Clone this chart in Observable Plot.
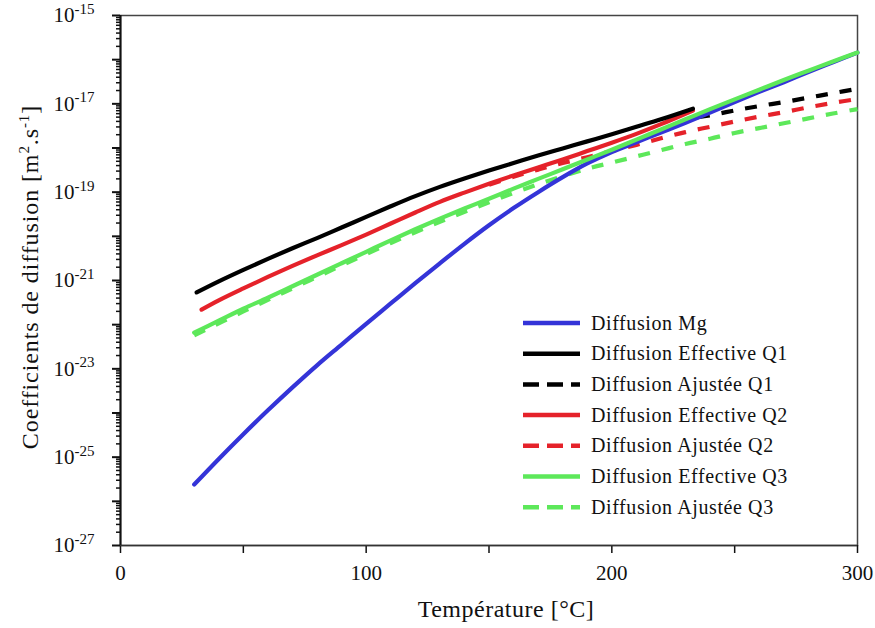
<!DOCTYPE html>
<html><head><meta charset="utf-8">
<script src="https://cdn.jsdelivr.net/npm/d3@7"></script>
<script src="https://cdn.jsdelivr.net/npm/@observablehq/plot@0.6"></script>
<style>
html,body{margin:0;padding:0;background:#fff;}
#chart{width:875px;height:628px;}
svg{display:block;}
</style></head><body><div id="chart"></div>
<script>
// Temperatures (°C) and log10 of diffusion coefficient (m²/s)
const mgTemp = [30,40,50,60,70,80,90,100,110,120,130,140,150,160,170,180,190,200,210,220,230,240,250,260,270,280,290,300];
const mgLog  = [-25.62,-25.04,-24.48,-23.94,-23.42,-22.92,-22.45,-21.98,-21.52,-21.06,-20.61,-20.17,-19.75,-19.36,-19.00,-18.66,-18.35,-18.09,-17.87,-17.65,-17.43,-17.20,-16.96,-16.73,-16.51,-16.28,-16.06,-15.84];

const q1EffTemp = [31,40,50,60,70,80,90,100,110,120,130,140,150,160,170,180,190,200,210,220,233];
const q1EffLog  = [-21.27,-21.02,-20.76,-20.51,-20.27,-20.04,-19.80,-19.56,-19.32,-19.09,-18.88,-18.69,-18.51,-18.34,-18.17,-18.01,-17.85,-17.69,-17.52,-17.35,-17.11];
const q1AdjTemp = [235,240,250,260,270,280,290,300];
const q1AdjLog  = [-17.30,-17.26,-17.15,-17.05,-16.96,-16.86,-16.76,-16.66];

const q2EffTemp = [33,40,50,60,70,80,90,100,110,120,130,140,150,160,170,180,190,200,210,220,233];
const q2EffLog  = [-21.66,-21.45,-21.18,-20.92,-20.67,-20.43,-20.20,-19.96,-19.71,-19.46,-19.22,-19.01,-18.81,-18.62,-18.44,-18.26,-18.07,-17.88,-17.68,-17.46,-17.15];
const q2AdjTemp = [150,160,170,180,190,200,210,220,230,240,250,260,270,280,290,300];
const q2AdjLog  = [-18.83,-18.65,-18.49,-18.34,-18.21,-18.07,-17.93,-17.78,-17.64,-17.52,-17.40,-17.29,-17.19,-17.08,-16.98,-16.89];

const q3EffTemp = [30,40,50,60,70,80,90,100,110,120,130,140,150,160,170,180,190,200,210,220,230,240,250,260,270,280,290,300];
const q3EffLog  = [-22.18,-21.91,-21.64,-21.39,-21.13,-20.87,-20.61,-20.35,-20.09,-19.84,-19.60,-19.37,-19.15,-18.92,-18.70,-18.48,-18.26,-18.04,-17.81,-17.58,-17.35,-17.12,-16.90,-16.68,-16.46,-16.25,-16.04,-15.84];
const q3AdjTemp = [30,50,70,90,110,130,150,170,190,200,210,220,230,240,250,260,270,280,290,300];
const q3AdjLog  = [-22.24,-21.70,-21.18,-20.66,-20.15,-19.67,-19.23,-18.82,-18.47,-18.33,-18.19,-18.05,-17.91,-17.79,-17.66,-17.55,-17.44,-17.33,-17.22,-17.12];

const xTicks = [0,50,100,150,200,250,300];
const xTickLabels = [0,100,200,300];
const yMajorExp = [-27,-26,-25,-24,-23,-22,-21,-20,-19,-18,-17,-16,-15];
const yLabelExp = [-27,-25,-23,-21,-19,-17,-15];

const legendLabels = ["Diffusion Mg","Diffusion Effective Q1","Diffusion Ajustée Q1","Diffusion Effective Q2","Diffusion Ajustée Q2","Diffusion Effective Q3","Diffusion Ajustée Q3"];
const legendColors = ["#3434d8","#000000","#000000","#e5222a","#e5222a","#5de85a","#5de85a"];
const legendDashed = [false,false,true,false,true,false,true];

const toRows = (ts, ls) => ts.map((t,i) => ({T: t, D: Math.pow(10, ls[i])}));
const majorTicks = yMajorExp.map(e => Math.pow(10, e));
const minorTicks = [];
for (let e = -27; e < -15; e++) for (let m = 2; m <= 9; m++) minorTicks.push(m * Math.pow(10, e));

const BLUE = legendColors[0], BLACK = legendColors[1], RED = legendColors[3], GREEN = legendColors[5];
const W = 4.2, DASH = "12,12", CURVE = "catmull-rom";
const lineOpts = (color, dashed) => ({x: "T", y: "D", stroke: color, strokeWidth: W, curve: CURVE,
  strokeDasharray: dashed ? DASH : null, strokeLinecap: dashed ? "butt" : "round"});

const plot = Plot.plot({
  width: 875, height: 628,
  marginLeft: 120, marginRight: 18, marginTop: 15, marginBottom: 83,
  style: {fontFamily: "'Liberation Serif','Times New Roman',serif", fontSize: "21px", color: "#111", background: "#fff", overflow: "visible"},
  x: {domain: [0, 300]},
  y: {type: "log", domain: [1e-27, 1e-15]},
  marks: [
    Plot.frame({stroke: "#444", strokeWidth: 1.5}),
    Plot.axisX({ticks: xTicks, tickSize: 8, tickPadding: 12, strokeWidth: 1.5,
      tickFormat: d => xTickLabels.includes(d) ? String(d) : "", label: null}),
    Plot.axisY({ticks: minorTicks, tickSize: 4, tickFormat: () => "", label: null, strokeWidth: 1.5}),
    Plot.axisY({ticks: majorTicks, tickSize: 8, tickPadding: 18, strokeWidth: 2, label: null,
      tickFormat: d => { const e = Math.round(Math.log10(d)); return yLabelExp.includes(e) ? "10^" + e : ""; }}),
    Plot.ruleX([0], {strokeWidth: 2, stroke: "#111"}),
    Plot.ruleY([1e-27], {strokeWidth: 1.5, stroke: "#333"}),
    Plot.line(toRows(q3AdjTemp, q3AdjLog), lineOpts(GREEN, true)),
    Plot.line(toRows(q2AdjTemp, q2AdjLog), lineOpts(RED, true)),
    Plot.line(toRows(q1AdjTemp, q1AdjLog), lineOpts(BLACK, true)),
    Plot.line(toRows(mgTemp, mgLog), lineOpts(BLUE, false)),
    Plot.line(toRows(q2EffTemp, q2EffLog), lineOpts(RED, false)),
    Plot.line(toRows(q1EffTemp, q1EffLog), lineOpts(BLACK, false)),
    Plot.line(toRows(q3EffTemp, q3EffLog), lineOpts(GREEN, false))
  ]
});
document.getElementById("chart").appendChild(plot);

const svg = d3.select(plot);
// superscript exponents on y tick labels
svg.selectAll('g[aria-label="y-axis tick label"] text').each(function() {
  const s = this.textContent;
  if (!s.includes("^")) return;
  const [base, exp] = s.split("^");
  const t = d3.select(this);
  t.text("");
  t.append("tspan").text(base).attr("font-size", "21px");
  t.append("tspan").text(exp).attr("font-size", "15px").attr("dy", "-0.55em");
});

// axis titles
const font = "'Liberation Serif','Times New Roman',serif";
const yl = svg.append("text")
  .attr("transform", "translate(38,277) rotate(-90)")
  .attr("text-anchor", "middle").attr("font-family", font).attr("font-size", "24px")
  .attr("letter-spacing", "0.9px").attr("fill", "#111");
yl.append("tspan").text("Coefficients de diffusion [m");
yl.append("tspan").text("2").attr("font-size", "15px").attr("dy", "-9");
yl.append("tspan").text(".s").attr("dy", "9");
yl.append("tspan").text("-1").attr("font-size", "15px").attr("dy", "-9");
yl.append("tspan").text("]").attr("dy", "9");

svg.append("text").attr("x", 506).attr("y", 617).attr("text-anchor", "middle")
  .attr("font-family", font).attr("font-size", "24px").attr("letter-spacing", "0.5px").attr("fill", "#111")
  .text("Température [°C]");

// legend
const lg = svg.append("g").attr("font-family", font).attr("font-size", "20px")
  .attr("letter-spacing", "0.6px").attr("fill", "#111").attr("text-anchor", "start");
legendLabels.forEach((lab, i) => {
  const y = 323 + i * 30.7;
  lg.append("line").attr("x1", 523).attr("x2", 580).attr("y1", y).attr("y2", y)
    .attr("stroke", legendColors[i]).attr("stroke-width", 4.5)
    .attr("stroke-dasharray", legendDashed[i] ? "16,8" : null);
  lg.append("text").attr("x", 591).attr("y", y + 6.5).attr("text-anchor", "start").text(lab);
});
</script>
</body></html>
